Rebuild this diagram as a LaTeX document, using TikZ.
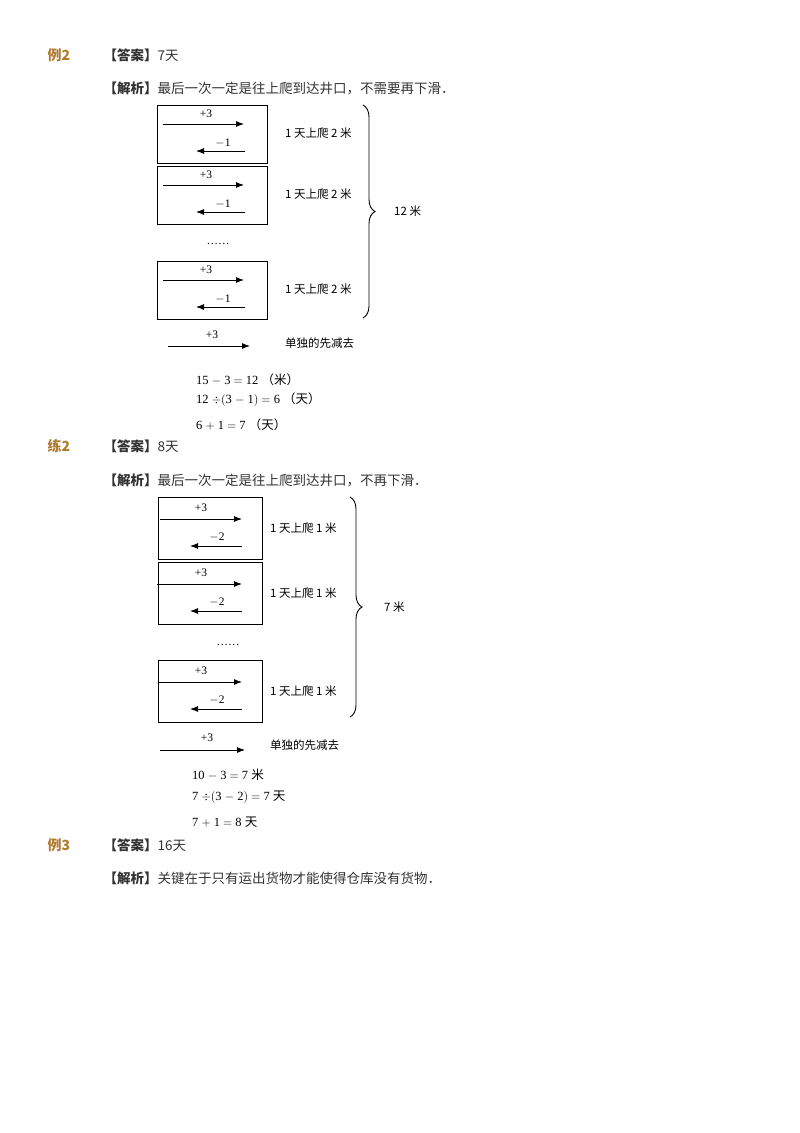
\documentclass[tikz,border=0pt]{standalone}
\usepackage{fontspec}
\setmainfont{Liberation Serif}
\newfontfamily\cjk{Noto Sans CJK SC}
\usetikzlibrary{decorations.pathreplacing,arrows.meta}
\definecolor{brn}{RGB}{176,122,48}
\definecolor{txt}{RGB}{51,51,51}
\begin{document}
\begin{tikzpicture}[x=1pt,y=-1pt,
  hd/.style={anchor=west,text=brn,font=\cjk\bfseries\fontsize{14}{14}\selectfont},
  ln/.style={anchor=west,text=txt,font=\cjk\fontsize{13.5}{13.5}\selectfont},
  box/.style={draw,line width=0.9pt},
  ar/.style={-{Latex[length=8pt,width=6pt]},line width=0.9pt},
  lab/.style={font=\fontsize{11.5}{11.5}\selectfont,inner sep=1pt},
  clab/.style={anchor=west,font=\cjk\fontsize{11.5}{11.5}\selectfont,inner sep=0pt},
  eq/.style={anchor=west,font=\fontsize{12.5}{12.5}\selectfont,inner sep=0pt},
  br/.style={decorate,decoration={brace,amplitude=12pt},line width=0.9pt}]
\useasboundingbox (0,0) rectangle (800,1133);
% ---- Example 2
\node[hd] (h1) at (44,55) {例2};
\node[ln] (a1) at (100,55) {\textbf{【答案】}7天};
\node[ln] (j1) at (100,88) {\textbf{【解析】}最后一次一定是往上爬到达井口，不需要再下滑．};
\foreach \n/\t in {1/105,2/166,3/261}{
  \draw[box] (157,\t) rectangle (267,\t+58);
  \coordinate (r\n a) at (163,\t+19); \coordinate (r\n b) at (244,\t+19);
  \draw[ar] (r\n a) -- (r\n b);
  \node[lab] at (206,\t+9) {+3};
  \coordinate (l\n a) at (245,\t+46); \coordinate (l\n b) at (196,\t+46);
  \draw[ar] (l\n a) -- (l\n b);
  \node[lab] at (223,\t+38) {$-$1};
  \node[clab] at (285,\t+28) {1 天上爬 2 米};
}
\node[lab] (d1) at (218,244) {……};
\coordinate (b1t) at (363,105); \coordinate (b1b) at (363,318);
\draw[br] (b1t) -- (b1b);
\node[clab] (m1) at (394,211) {12 米};
\coordinate (s1a) at (168,346); \coordinate (s1b) at (250,346);
\draw[ar] (s1a) -- (s1b);
\node[lab] at (212,335) {+3};
\node[clab] at (285,343) {单独的先减去};
\node[eq] at (196,380) {15 $-$ 3 $=$ 12 {\cjk（米）}};
\node[eq] at (196,400) {12 $\div\big($3 $-$ 1$\big)$ $=$ 6 {\cjk（天）}};
\node[eq] at (196,425) {6 $+$ 1 $=$ 7 {\cjk（天）}};
% ---- Practice 2
\node[hd] (h2) at (44,446) {练2};
\node[ln] (a2) at (100,446) {\textbf{【答案】}8天};
\node[ln] (j2) at (100,480) {\textbf{【解析】}最后一次一定是往上爬到达井口，不再下滑．};
\foreach \n/\t/\rx in {4/497/160,5/562/157,6/660/158}{
  \draw[box] (158,\t) rectangle (262,\t+62);
  \coordinate (r\n a) at (\rx,\t+22); \coordinate (r\n b) at (242,\t+22);
  \draw[ar] (r\n a) -- (r\n b);
  \node[lab] at (201,\t+11) {+3};
  \coordinate (l\n a) at (242,\t+49); \coordinate (l\n b) at (190,\t+49);
  \draw[ar] (l\n a) -- (l\n b);
  \node[lab] at (217,\t+40) {$-$2};
  \node[clab] at (270,\t+31) {1 天上爬 1 米};
}
\node[lab] (d2) at (228,645) {……};
\coordinate (b2t) at (350,497); \coordinate (b2b) at (350,717);
\draw[br] (b2t) -- (b2b);
\node[clab] (m2) at (384,607) {7 米};
\coordinate (s2a) at (160,750); \coordinate (s2b) at (245,750);
\draw[ar] (s2a) -- (s2b);
\node[lab] at (207,738) {+3};
\node[clab] at (270,745) {单独的先减去};
\node[eq] at (192,775) {10 $-$ 3 $=$ 7 {\cjk 米}};
\node[eq] at (192,797) {7 $\div\big($3 $-$ 2$\big)$ $=$ 7 {\cjk 天}};
\node[eq] at (192,822) {7 $+$ 1 $=$ 8 {\cjk 天}};
% ---- Example 3
\node[hd] (h3) at (44,845) {例3};
\node[ln] (a3) at (100,845) {\textbf{【答案】}16天};
\node[ln] (j3) at (100,878) {\textbf{【解析】}关键在于只有运出货物才能使得仓库没有货物．};
\end{tikzpicture}
\end{document}
